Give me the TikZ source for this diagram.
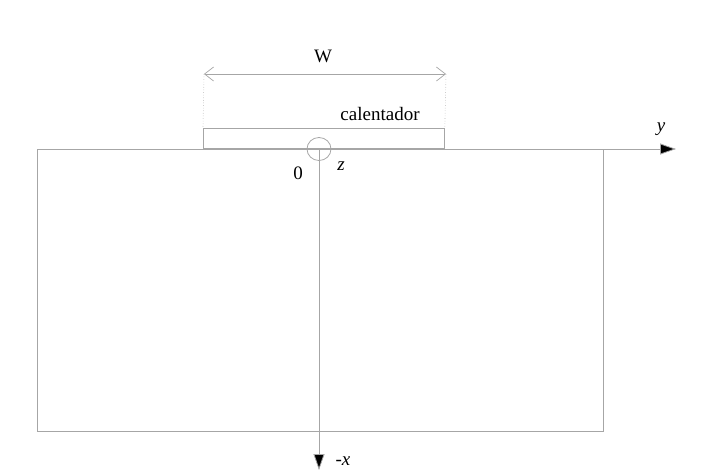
\documentclass[tikz,border=0pt]{standalone}
\usepackage{fontspec}
\setmainfont{Liberation Serif}
\usetikzlibrary{arrows.meta}
\begin{document}
\begin{tikzpicture}[x=1pt,y=-1pt,
  line/.style={draw=black!35, line width=0.8pt},
  axisarrow/.style={-{Triangle[length=16pt,width=11pt,fill=black]}},
  dimarrow/.style={{Straight Barb[length=9pt,width=14pt,line width=0.7pt]}-{Straight Barb[length=9pt,width=14pt,line width=0.7pt]}},
  lbl/.style={font=\fontsize{19}{21}\selectfont, inner sep=0pt},
]
\useasboundingbox (0,0) rectangle (710,475);
% body
\draw[line] (37,149) rectangle (603,431);
% heater
\node[line, draw, minimum width=241pt, minimum height=20pt, anchor=south west, inner sep=0pt] (heater) at (203,149) {};
% axes
\coordinate (origin) at (319,149);
\coordinate (yend) at (676,149);
\coordinate (xend) at (319,470);
\draw[line, axisarrow] (37,149) -- (yend);
\draw[line, axisarrow] (origin) -- (xend);
% origin circle
\draw[line] (origin) ellipse [x radius=12pt, y radius=11.5pt];
% dimension
\coordinate (dl) at (204,74);
\coordinate (dr) at (446,74);
\draw[line, dimarrow] (dl) -- (dr);
\draw[draw=black!30, line width=0.6pt, dotted] (dl) -- (heater.north west);
\draw[draw=black!30, line width=0.6pt, dotted] (dr) -- (heater.north east);
% labels
\node[lbl] (W) at (323,56) {W};
\node[lbl] (cal) at (380,114) {calentador};
\node[lbl] (ylab) at (661,129) {\itshape y};
\node[lbl] (zero) at (298,173) {0};
\node[lbl] (zlab) at (341,166) {\itshape z};
\node[lbl] (xlab) at (343,461) {-\itshape x};
\end{tikzpicture}
\end{document}
